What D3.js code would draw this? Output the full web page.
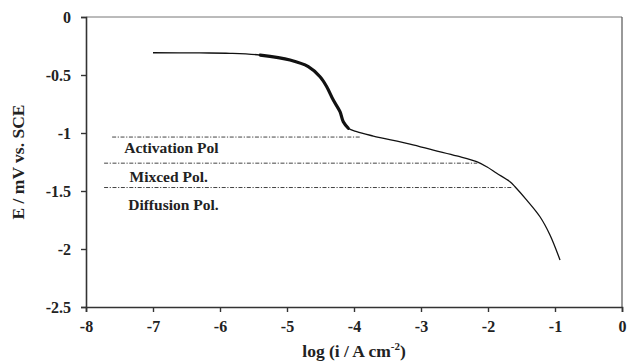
<!DOCTYPE html>
<html>
<head>
<meta charset="utf-8">
<script src="https://cdn.jsdelivr.net/npm/d3@7"></script>
<style>
  html, body { margin: 0; padding: 0; background: #fff; }
  svg { display: block; }
  text { font-family: "Liberation Serif", "Times New Roman", serif; font-weight: bold; fill: #222; }
</style>
</head>
<body>
<svg id="chart" width="627" height="362"></svg>
<script>
// Cathodic polarization curve: log current density vs. potential
const logI = [-7.0, -6.3, -5.85, -5.4, -4.955, -4.682, -4.507, -4.407, -4.309, -4.209, -4.16, -4.085,
              -3.96, -3.712, -3.164, -2.816, -2.467, -2.169, -2.019, -1.87, -1.672, -1.597, -1.422,
              -1.224, -1.075, -0.925];
const potential = [-0.308, -0.31, -0.313, -0.328, -0.371, -0.428, -0.515, -0.601, -0.716, -0.816, -0.903, -0.959,
                   -0.989, -1.026, -1.095, -1.147, -1.198, -1.247, -1.291, -1.347, -1.42, -1.463, -1.578,
                   -1.722, -1.879, -2.095];

// Noisy stretch of the recording (drawn heavier)
const noisyRange = [-5.6, -4.05];

// Region boundaries (dash-dot guides) and their labels
const guideLevel = [-1.035, -1.26, -1.47];
const guideStart = [-7.61, -7.73, -7.73];
const guideEnd = [-3.91, -2.16, -1.63];
const regionNames = ["Activation Pol", "Mixced Pol.", "Diffusion Pol."];
const regionLabelX = [-7.43, -7.35, -7.37];
const regionLabelY = [-1.17, -1.42, -1.66];

const xTicks = [-8, -7, -6, -5, -4, -3, -2, -1, 0];
const yTicks = [0, -0.5, -1, -1.5, -2, -2.5];

const svg = d3.select("#chart");
const m = { left: 86, right: 5, top: 17, bottom: 55 };
const W = 627, H = 362;
const serif = "'Liberation Serif', 'Times New Roman', serif";

const x = d3.scaleLinear().domain([-8, 0]).range([m.left, W - m.right]);
const y = d3.scaleLinear().domain([0, -2.5]).range([m.top, H - m.bottom]);

// Frame: top and right edges
svg.append("line").attr("x1", x(-8)).attr("x2", x(0)).attr("y1", y(0)).attr("y2", y(0))
  .attr("stroke", "#777").attr("stroke-width", 1);
svg.append("line").attr("x1", x(0)).attr("x2", x(0)).attr("y1", y(0)).attr("y2", y(-2.5))
  .attr("stroke", "#555").attr("stroke-width", 1.2);

// Axes (plain hyphen minus signs)
const xAxis = svg.append("g").attr("transform", `translate(0,${y(-2.5)})`)
  .call(d3.axisBottom(x).tickValues(xTicks).tickFormat(d => String(d)).tickSize(5).tickPadding(4));
const yAxis = svg.append("g").attr("transform", `translate(${x(-8)},0)`)
  .call(d3.axisLeft(y).tickValues(yTicks).tickFormat(d => String(d)).tickSize(5).tickPadding(10));

[xAxis, yAxis].forEach(g => {
  g.select(".domain").attr("stroke", "#333").attr("stroke-width", 1.6);
  g.selectAll(".tick line").attr("stroke", "#333").attr("stroke-width", 1.4);
  g.selectAll(".tick text").attr("font-size", 16).attr("font-family", serif)
    .attr("font-weight", "bold").attr("fill", "#222");
});
xAxis.selectAll(".tick text").attr("dy", "1.0em");
yAxis.selectAll(".tick text").attr("dy", "0.35em");

// Dash-dot guides
guideLevel.forEach((v, i) => {
  svg.append("line")
    .attr("x1", x(guideStart[i])).attr("x2", x(guideEnd[i]))
    .attr("y1", y(v)).attr("y2", y(v))
    .attr("stroke", "#444").attr("stroke-width", 1)
    .attr("stroke-dasharray", "4,1.6,1.2,1.6");
});
regionNames.forEach((t, i) => {
  svg.append("text").attr("x", x(regionLabelX[i])).attr("y", y(regionLabelY[i]))
    .attr("font-size", 15.5).text(t);
});

// Curve
const pts = logI.map((v, i) => [v, potential[i]]);
const line = d3.line().x(d => x(d[0])).y(d => y(d[1])).curve(d3.curveCatmullRom.alpha(0.5));
svg.append("path").attr("d", line(pts)).attr("fill", "none")
  .attr("stroke", "#111").attr("stroke-width", 1.3);
const noisy = pts.filter(d => d[0] >= noisyRange[0] && d[0] <= noisyRange[1]);
svg.append("path").attr("d", line(noisy)).attr("fill", "none")
  .attr("stroke", "#111").attr("stroke-width", 3.2).attr("stroke-linecap", "round");

// Axis titles
svg.append("text").attr("text-anchor", "middle")
  .attr("transform", `translate(24,${(y(0) + y(-2.5)) / 2}) rotate(-90)`)
  .attr("font-size", 17.5).text("E / mV vs. SCE");

const xt = svg.append("text").attr("text-anchor", "middle")
  .attr("x", (x(-8) + x(0)) / 2).attr("y", 357).attr("font-size", 17.5);
xt.append("tspan").text("log (i / A cm");
xt.append("tspan").attr("dy", -7).attr("font-size", 11).text("-2");
xt.append("tspan").attr("dy", 7).text(")");
</script>
</body>
</html>
